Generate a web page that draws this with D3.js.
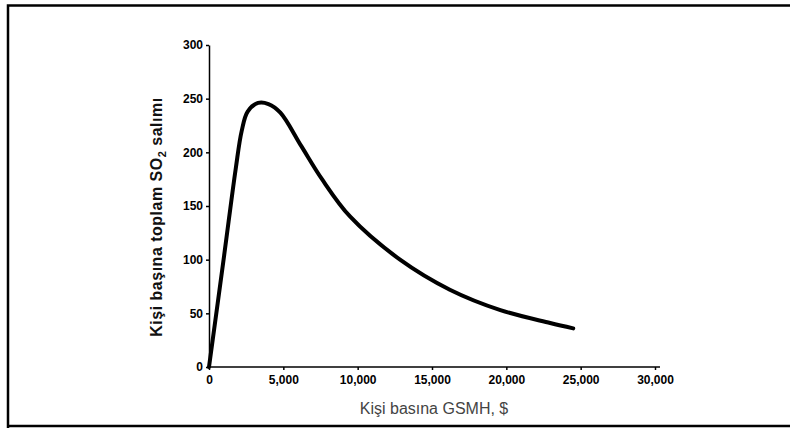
<!DOCTYPE html>
<html>
<head>
<meta charset="utf-8">
<script src="https://cdn.jsdelivr.net/npm/d3@7"></script>
<style>
  body { margin: 0; background: #fff; }
  svg { display: block; }
  .axis path, .axis line { stroke: #000; stroke-width: 1.5; }
  .axis text { font-family: "Liberation Sans Narrow", "Liberation Sans", Arial, sans-serif; font-weight: bold; font-size: 12px; fill: #000; }
</style>
</head>
<body>
<svg id="svg1" width="790" height="428"></svg>
<script>
// values
var gdp = [0, 1000, 1800, 2200, 2600, 3300, 4000, 4800, 6200, 7600, 9500, 12850, 16200, 19600, 22950, 24500];
var so2 = [0, 102, 185, 220, 238, 246, 245, 237, 206, 175, 140, 100, 72, 53, 41, 36];
var xTicks = [0, 5000, 10000, 15000, 20000, 25000, 30000];
var yTicks = [0, 50, 100, 150, 200, 250, 300];

var svg = d3.select('#svg1');

// frame
svg.append('path')
    .attr('d', 'M8,428 L8,5.5 L790,5.5 M8,426 L790,426')
    .attr('fill', 'none')
    .attr('stroke', '#000')
    .attr('stroke-width', 2.5);

var scaleX = d3.scaleLinear().domain([0, 30000]).range([209, 655]);
var scaleY = d3.scaleLinear().domain([0, 300]).range([367, 45]);

svg.append('g')
    .attr('class', 'axis')
    .attr('transform', 'translate(0,367)')
    .call(d3.axisBottom(scaleX).tickValues(xTicks).tickSize(3).tickSizeOuter(0)
        .tickFormat(function(d){ return d3.format(',')(d); }))
    .call(function(g){ g.select('.domain').attr('d', 'M209,0H660'); })
    .selectAll('text').attr('dy', '0.95em');

svg.append('g')
    .attr('class', 'axis')
    .attr('transform', 'translate(209,0)')
    .call(d3.axisLeft(scaleY).tickValues(yTicks).tickSize(3).tickSizeOuter(0));

var line = d3.line()
    .x(function(d, i){ return scaleX(gdp[i]); })
    .y(function(d){ return scaleY(d); })
    .curve(d3.curveCatmullRom.alpha(0.5));

svg.append('path')
    .datum(so2)
    .attr('d', line)
    .attr('fill', 'none')
    .attr('stroke', '#000')
    .attr('stroke-width', 4)
    .attr('stroke-linecap', 'round')
    .attr('stroke-linejoin', 'round');

// axis titles
var yt = svg.append('text')
    .attr('transform', 'translate(162,217) rotate(-90)')
    .attr('text-anchor', 'middle')
    .attr('font-family', 'Liberation Sans, Arial, sans-serif')
    .attr('font-weight', 'bold')
    .attr('font-size', 16)
    .attr('letter-spacing', 0.5)
    .attr('fill', '#111');
yt.append('tspan').text('Kişi başına toplam SO');
yt.append('tspan').attr('font-size', 11).attr('dy', 4).text('2');
yt.append('tspan').attr('dy', -4).text(' salımı');

svg.append('text')
    .attr('x', 434)
    .attr('y', 414)
    .attr('text-anchor', 'middle')
    .attr('font-family', 'Liberation Sans, Arial, sans-serif')
    .attr('font-size', 16)
    .attr('fill', '#444')
    .text('Kişi basına GSMH, $');
</script>
</body>
</html>
